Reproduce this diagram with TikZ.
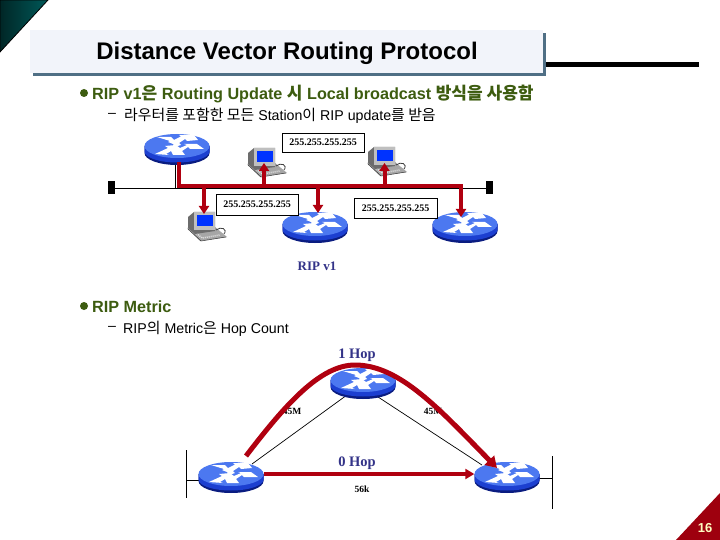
\documentclass[tikz,border=0pt]{standalone}
\usepackage{fontspec}
\setmainfont{Liberation Sans}
\newfontfamily\krf[Scale=1.05]{Noto Sans CJK KR}
\newfontfamily\serf{Liberation Serif}
\usetikzlibrary{shapes.geometric,arrows.meta}
\definecolor{redl}{HTML}{B00010}
\definecolor{grn}{HTML}{3D5C10}
\definecolor{navyt}{HTML}{333388}
\definecolor{barc}{HTML}{4F6F85}
\definecolor{titlebg}{HTML}{F2F4FA}
\definecolor{rtop}{HTML}{4C78F0}
\definecolor{rside}{HTML}{1C3FD0}
\definecolor{rdark}{HTML}{0A1C80}
\tikzset{
  x=1pt,y=-1pt,
  rtrtop/.style={ellipse,fill=rtop,minimum width=65pt,minimum height=24pt,inner sep=0pt},
  addr/.style={draw=black,line width=.8pt,fill=white,inner sep=0pt,font=\serf\bfseries\fontsize{10}{10}\selectfont},
  redline/.style={draw=redl,line width=4pt},
  redtip/.style={-{Triangle[length=8pt,width=10pt]}},
  thin1/.style={draw=black,line width=.7pt},
  lab/.style={inner sep=0pt,font=\serf\bfseries\fontsize{9.5}{10}\selectfont},
  hop/.style={inner sep=0pt,text=navyt,font=\serf\bfseries\fontsize{14.5}{15}\selectfont},
  capt/.style={inner sep=0pt,text=navyt,font=\serf\bfseries\fontsize{13}{13}\selectfont},
  green1/.style={inner sep=0pt,anchor=west,text=grn,font=\bfseries\fontsize{16.2}{18}\selectfont},
  sub1/.style={inner sep=0pt,anchor=west,text=black,font=\fontsize{14.2}{16}\selectfont},
  blk/.style={fill=black,inner sep=0pt,minimum width=7pt,minimum height=13pt},
  dot1/.style={circle,fill=grn,inner sep=0pt,minimum size=8pt},
}
\newcommand{\rtr}[3]{%
  \begin{scope}[shift={(#2,#3)}]
    \fill[rdark] (-32.5,0) -- (-32.5,7) arc[start angle=180,end angle=0,x radius=32.5,y radius=12] -- (32.5,0) -- cycle;
    \fill[rside] (-32.5,0) -- (-32.5,5.5) arc[start angle=180,end angle=0,x radius=32.5,y radius=11] -- (32.5,0) -- cycle;
  \end{scope}
  \node[rtrtop] (#1) at (#2,#3) {};
  \begin{scope}[shift={(#2,#3)}]
    \fill[white] (-20,-9) -- (-6,-9) -- (-3,-6) -- (4,-9.5) -- (2,-11) -- (17,-11) -- (21,-6) -- (10,-5) -- (8,-7) -- (2,-3) -- (4,-1) -- (-2,1) -- (-4,-2) -- (-9,-4) -- (-7,-5) -- cycle;
    \fill[white] (-22,8) -- (-9,2) -- (-12,0) -- (-1,-1) -- (3,2) -- (10,-1) -- (7,-2) -- (20,-2) -- (27,3) -- (13,3) -- (11,1) -- (5,5) -- (8,9) -- (-4,9) -- (-6,5) -- (-11,8) -- (-8,9) -- cycle;
  \end{scope}}
\newcommand{\pc}[3]{%
  \begin{scope}[shift={(#2,#3)}]
    \coordinate (#1) at (20,14);
    \fill[gray!70] (0,16) -- (13,29) -- (40,25) -- (28,15) -- cycle;
    \draw[gray!40!black,line width=.5pt] (1,17) -- (14,29) -- (39,25);
    \draw[gray!25!white,line width=1.5pt,dash pattern=on 1pt off 1pt] (8,20) -- (15,26) -- (33,23);
    \fill[gray!85!black] (1,5) -- (7,0) -- (28,0) -- (28,19) -- (8,22) -- (1,16) -- cycle;
    \fill[gray!50] (7,0) -- (28,0) -- (28,18) -- (7,18) -- cycle;
    \fill[blue!80!cyan] (10,3) rectangle (26,14);
    \draw[gray!50!black,line width=.8pt] (29,18) .. controls (34,14) and (41,17) .. (37,22);
  \end{scope}}
\begin{document}
\begin{tikzpicture}
\useasboundingbox (0,0) rectangle (720,540);
\fill[white] (0,0) rectangle (720,540);
% corners
\draw[black,line width=.8pt,left color=black!70!teal,right color=teal!70!black] (0,0) -- (48,0) -- (0,52) -- cycle;
\fill[redl!90!black] (720,493) -- (676,540) -- (720,540) -- cycle;
\node[inner sep=0pt,text=yellow!25!white,font=\bfseries\fontsize{13}{13}\selectfont] (pg) at (705,528) {16};
% title
\fill[barc] (33,33) rectangle (546,76);
\fill[titlebg] (30,30) rectangle (543,73);
\node[inner sep=0pt,font=\bfseries\fontsize{24}{26}\selectfont] (title) at (287,53.5) {Distance Vector Routing Protocol};
\coordinate (ruleA) at (546,64.5);
\coordinate (ruleB) at (699,64.5);
\draw[black,line width=5pt] (ruleA) -- (ruleB);
% text
\node[dot1] (b1) at (84,93) {};
\node[green1] (t1) at (92,94) {RIP v1{\krf 은} Routing Update {\krf 시} Local broadcast {\krf 방식을 사용함}};
\node[sub1] (d1) at (108,115) {–};
\node[sub1] (t2) at (124,115.5) {{\krf 라우터를 포함한 모든} Station{\krf 이} RIP update{\krf 를 받음}};
\node[dot1] (b2) at (84,306) {};
\node[green1] (t3) at (92,306.5) {RIP Metric};
\node[sub1] (d2) at (108,328) {–};
\node[sub1] (t4) at (123,328.5) {RIP{\krf 의} Metric{\krf 은} Hop Count};
% top network
\node[blk] (endL) at (111.5,188) {};
\node[blk] (endR) at (489.5,188) {};
\draw[thin1] (endL) -- (endR);
\coordinate (jb) at (175,188);
\coordinate (jt) at (175,163);
\draw[thin1] (jb) -- (jt);
\rtr{ra}{177}{146}
\rtr{rb}{315}{224}
\rtr{rc}{465}{224}
\pc{pa}{247}{148}
\pc{pb}{187}{212}
\pc{pc}{367}{147}
\coordinate (busL) at (178.5,186);
\coordinate (busR) at (461,186);
\coordinate (raB) at (178.5,162);
\coordinate (busE) at (461,212);
\draw[redline] (raB) -- (busL) -- (busR) -- (busE);
\coordinate (aa) at (204,186); \coordinate (ab) at (204,214);
\coordinate (ba) at (264,186); \coordinate (bb) at (264,163);
\coordinate (ca) at (318,186); \coordinate (cb) at (318,213);
\coordinate (da) at (384.5,186); \coordinate (db) at (384.5,163);
\coordinate (ea) at (461,206); \coordinate (eb) at (461,217);
\draw[redline,redtip] (aa) -- (ab);
\draw[redline,redtip] (ba) -- (bb);
\draw[redline,redtip] (ca) -- (cb);
\draw[redline,redtip] (da) -- (db);
\draw[redline,redtip] (ea) -- (eb);
\node[addr,minimum width=82pt,minimum height=19pt] (la) at (323,142.5) {255.255.255.255};
\node[addr,minimum width=82pt,minimum height=21pt] (lb) at (257,204.5) {255.255.255.255};
\node[addr,minimum width=83pt,minimum height=20pt] (lc) at (395.5,208) {255.255.255.255};
\node[capt] (cap) at (317,266) {RIP v1};
% bottom network
\node[hop] (h1) at (357,355.5) {1 Hop};
\node[hop] (h0) at (357,463.5) {0 Hop};
\node[lab] (ml) at (292,411) {45M};
\node[lab] (mr) at (433,411) {45M};
\node[lab] (sk) at (362,489) {56k};
\draw[thin1] (252,464) coordinate (ta) -- (347,395) coordinate (tb);
\draw[thin1] (375,395) coordinate (tc) -- (482,465) coordinate (td);
\coordinate (sla) at (186,450); \coordinate (slb) at (186,498); \coordinate (slc) at (186,480); \coordinate (sld) at (200,480);
\coordinate (sra) at (552,456); \coordinate (srb) at (552,509); \coordinate (src) at (552,478); \coordinate (srd) at (538,478);
\draw[thin1] (sla) -- (slb);
\draw[thin1] (sra) -- (srb);
\draw[thin1] (slc) -- (sld);
\draw[thin1] (src) -- (srd);
\rtr{rt}{363}{380}
\rtr{rl}{231}{474}
\rtr{rr}{507}{474}
\coordinate (arcA) at (246,456);
\coordinate (arcT) at (355,365);
\coordinate (arcE) at (497,468);
\draw[draw=redl,line width=5pt,-{Triangle[length=11pt,width=13pt]}] (arcA) .. controls (285,405) and (320,365) .. (arcT) .. controls (400,365) and (440,410) .. (arcE);
\draw[redline,-{Triangle[length=9pt,width=10pt]}] (rl.east) -- (rr.west);
\end{tikzpicture}
\end{document}
